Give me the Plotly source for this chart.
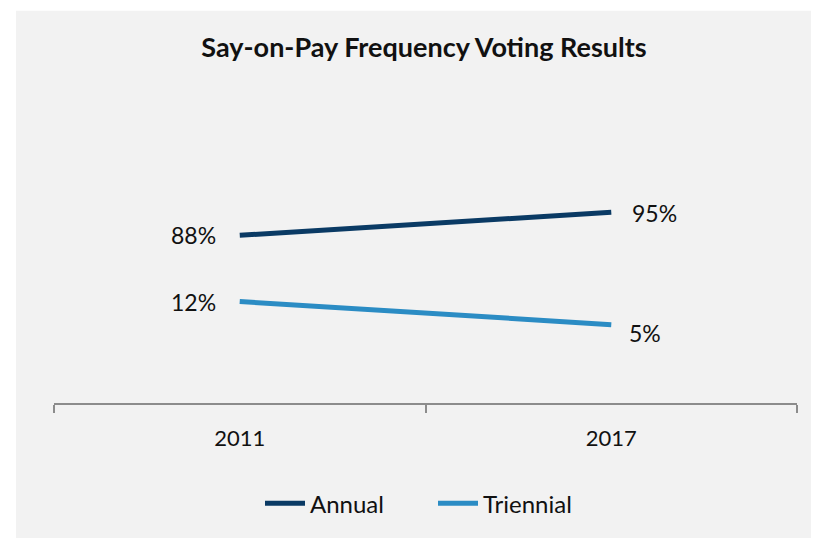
import plotly.graph_objects as go

categories = ["2011", "2017"]
annual = [88, 95]
triennial = [12, 5]
annual_labels = ["88%", "95%"]
triennial_labels = ["12%", "5%"]

# page is offset 8px by the browser body margin, so the figure is 8px smaller
W, H = 811, 530
L, R, T, B = 46, 22, 67, 131
pw, ph = W - L - R, H - T - B

navy = "#0a3a64"
blue = "#2b8cc4"
font = "Lato"
tc = "#111111"

fig = go.Figure()
fig.add_trace(go.Scatter(x=categories, y=annual, name="Annual", mode="lines",
                         line=dict(color=navy, width=5), yaxis="y"))
fig.add_trace(go.Scatter(x=categories, y=triennial, name="Triennial", mode="lines",
                         line=dict(color=blue, width=5), yaxis="y2"))

lf = dict(family=font, size=23, color=tc)
annotations = [
    dict(x=0, y=annual[0], xref="x", yref="y", text=annual_labels[0], showarrow=False,
         xanchor="right", yanchor="middle", xshift=-22, font=lf),
    dict(x=0, y=triennial[0], xref="x", yref="y2", text=triennial_labels[0], showarrow=False,
         xanchor="right", yanchor="middle", xshift=-22, font=lf),
    dict(x=1, y=annual[1], xref="x", yref="y", text=annual_labels[1], showarrow=False,
         xanchor="left", yanchor="middle", xshift=19, yshift=-1, font=lf),
    dict(x=1, y=triennial[1], xref="x", yref="y2", text=triennial_labels[1], showarrow=False,
         xanchor="left", yanchor="middle", xshift=16, yshift=-8, font=lf),
]


def px_x(p):
    return (p - L) / pw


def px_y(p):
    return (H - B - p) / ph


shapes = [
    dict(type="rect", xref="paper", yref="paper", x0=px_x(8), x1=px_x(W + 10),
         y0=px_y(H + 10), y1=px_y(2), fillcolor="#f2f2f2", line=dict(width=0), layer="below"),
]

hidden_y = dict(showline=False, showticklabels=False, ticks="", showgrid=False, zeroline=False)

fig.update_layout(
    width=W, height=H,
    margin=dict(l=L, r=R, t=T, b=B),
    paper_bgcolor="white",
    plot_bgcolor="rgba(0,0,0,0)",
    title=dict(text="<b>Say-on-Pay Frequency Voting Results</b>", x=416 / W, xanchor="center",
               y=1 - 40 / H, yanchor="middle", font=dict(family=font, size=27, color=tc)),
    xaxis=dict(type="category", range=[-0.5, 1.5], showline=True, linecolor="#8c8c8c", linewidth=1.5,
               ticks="outside", tickson="boundaries", ticklen=8, tickcolor="#8c8c8c", tickwidth=1.5,
               showgrid=False, zeroline=False, ticklabelstandoff=15,
               tickfont=dict(family=font, size=22, color=tc)),
    yaxis=dict(range=[37.2, 136.6], **hidden_y),
    yaxis2=dict(range=[-18.75, 80.65], overlaying="y", **hidden_y),
    showlegend=True,
    legend=dict(orientation="h", x=px_x(425), xanchor="center", y=px_y(501), yanchor="middle",
                font=dict(family=font, size=24, color=tc), bgcolor="rgba(0,0,0,0)",
                itemwidth=40, traceorder="normal", entrywidth=118, entrywidthmode="pixels"),
    annotations=annotations,
    shapes=shapes,
)

fig.write_html("out.html")
